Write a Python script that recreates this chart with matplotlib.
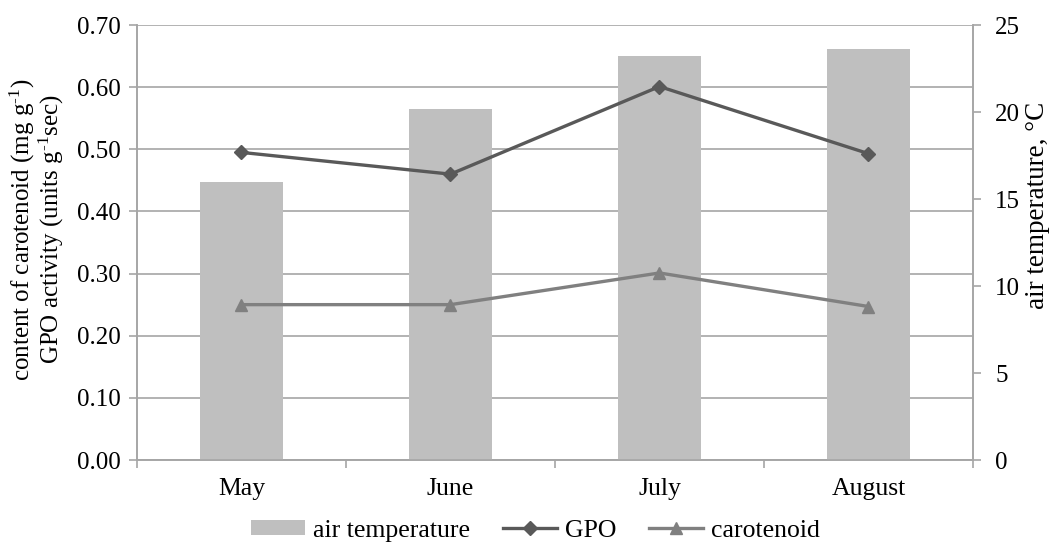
import matplotlib

matplotlib.use("Agg")
import matplotlib.pyplot as plt  # noqa: E402
import numpy as np  # noqa: E402

plt.rcParams["font.family"] = ["Liberation Serif", "DejaVu Serif"]
plt.rcParams["mathtext.default"] = "regular"

months = ["May", "June", "July", "August"]
air_temperature = [16.0, 20.2, 23.2, 23.6]
gpo = [0.495, 0.460, 0.601, 0.493]
carotenoid = [0.250, 0.250, 0.301, 0.247]

AXIS_GREY = "#a6a6a6"
positions = np.arange(len(months))

fig = plt.figure(figsize=(10.56, 5.46), dpi=100)
ax = fig.add_axes([0.1297, 0.1575, 0.7917, 0.7967])

# left axis: gridlines and ticks only
ax.set_xlim(-0.5, len(months) - 0.5)
ax.set_ylim(0, 0.70)
ax.set_yticks(np.arange(0, 0.71, 0.10))
ax.set_yticklabels([f"{v:.2f}" for v in np.arange(0, 0.71, 0.10)])
ax.grid(axis="y", color=AXIS_GREY, linewidth=1.2)
ax.set_axisbelow(True)
ax.set_xticks(positions)
ax.set_xticklabels(months)
ax.set_xticks(np.arange(-0.5, len(months)), minor=True)
ax.tick_params(axis="x", which="major", length=0, pad=13, labelsize=18.5)
ax.tick_params(axis="x", which="minor", length=6, width=1.2, color=AXIS_GREY)
ax.tick_params(axis="y", length=6, width=1.2, color=AXIS_GREY, pad=6, labelsize=18)
ax.spines["top"].set_visible(False)
for side in ("left", "right", "bottom"):
    ax.spines[side].set_color(AXIS_GREY)
    ax.spines[side].set_linewidth(1.2)
ax.set_ylabel("content of carotenoid (mg g$^{\u20101}$)\nGPO activity (units g$^{\u20101}$sec)",
              fontsize=18, linespacing=1.0)
ax.yaxis.set_label_coords(-0.085, 0.53)

# right axis: air temperature bars
ax2 = ax.twinx()
bars = ax2.bar(positions, air_temperature, width=0.4, color="#bfbfbf", label="air temperature")
ax2.set_ylim(0, 25)
ax2.set_yticks(np.arange(0, 26, 5))
ax2.tick_params(axis="y", length=6, width=1.2, color=AXIS_GREY, pad=10, labelsize=18)
ax2.spines["top"].set_visible(False)
for side in ("left", "right", "bottom"):
    ax2.spines[side].set_color(AXIS_GREY)
    ax2.spines[side].set_linewidth(1.2)
ax2.set_ylabel("air temperature, \u00b0C", fontsize=19.5)
ax2.yaxis.set_label_coords(1.062, 0.586)

# lines on top of the bars, same scale as left axis
ax3 = ax.twinx()
ax3.set_ylim(0, 0.70)
ax3.axis("off")
gpo_line, = ax3.plot(positions, gpo, color="#595959", linewidth=2.4, marker="D",
                     markersize=7, label="GPO")
car_line, = ax3.plot(positions, carotenoid, color="#808080", linewidth=2.4, marker="^",
                     markersize=9, label="carotenoid")

fig.legend([bars, gpo_line, car_line], ["air temperature", "GPO", "carotenoid"],
           loc="center", bbox_to_anchor=(0.507, 0.028), ncol=3, frameon=False,
           fontsize=18.5, handlelength=2.1, handletextpad=0.3, columnspacing=1.3,
           handleheight=0.5)

fig.savefig("out.png", dpi=100)
